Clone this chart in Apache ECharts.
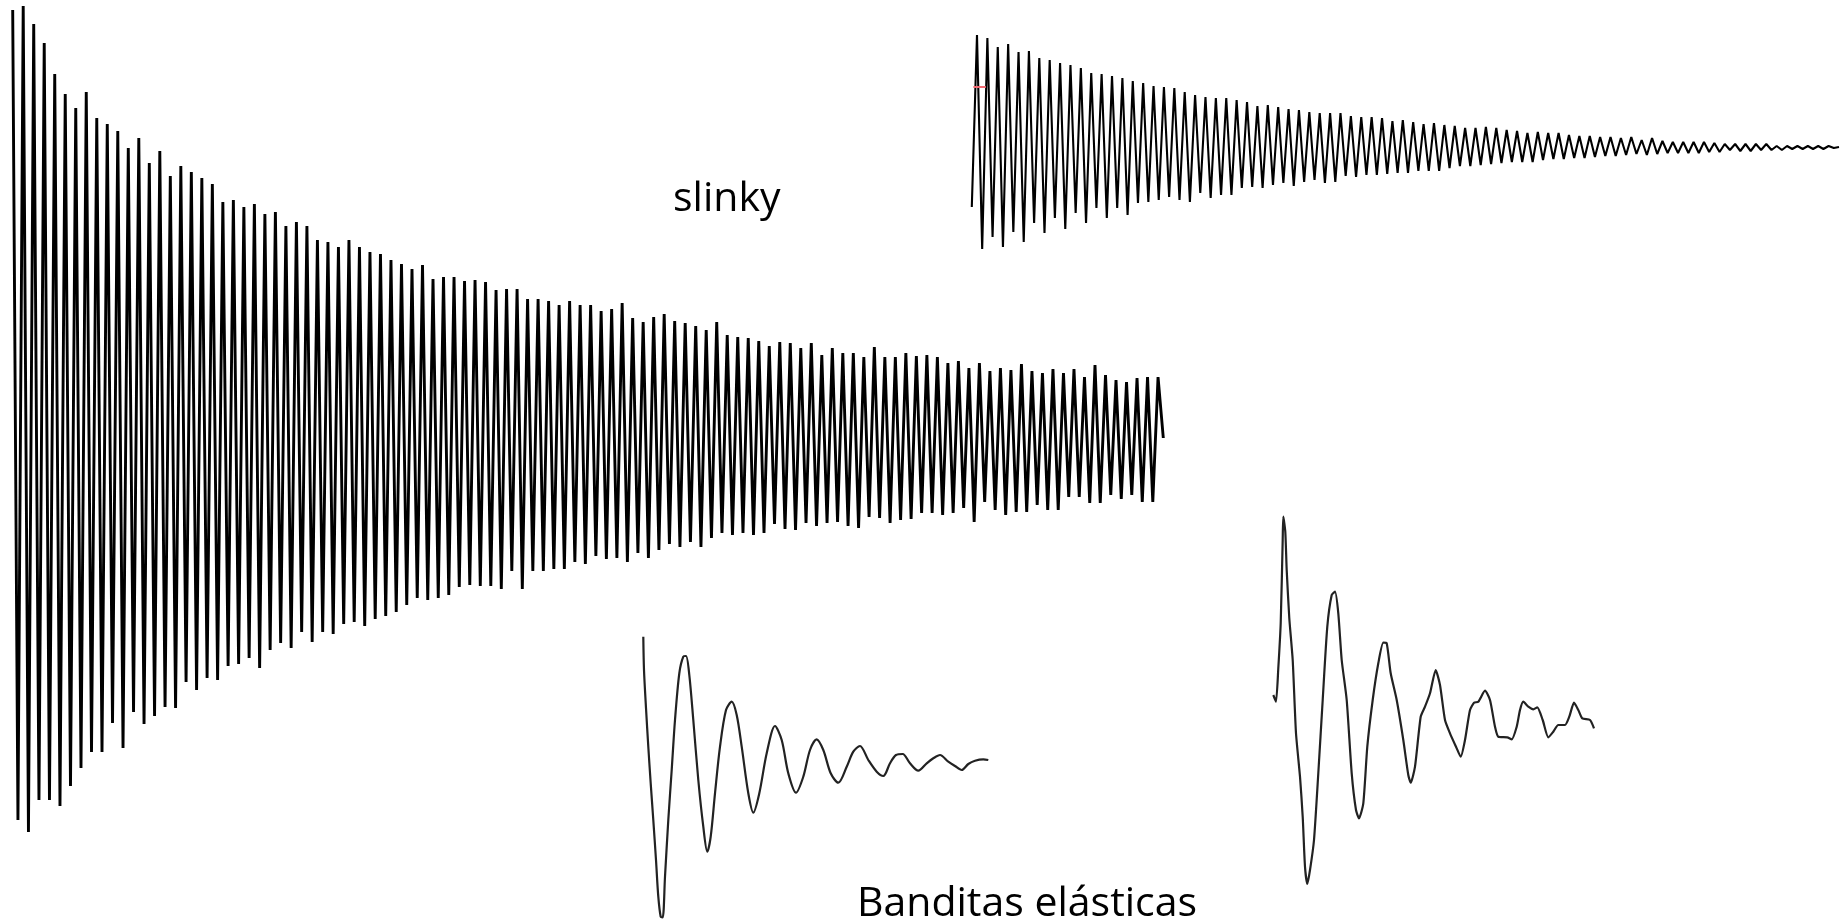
<!DOCTYPE html>
<html>
<head>
<meta charset="utf-8">
<title>slinky · banditas elásticas</title>
<script src="https://cdn.jsdelivr.net/npm/echarts@6/dist/echarts.min.js"></script>
<style>
  html, body { margin: 0; padding: 0; background: #ffffff; }
  #chart { width: 1841px; height: 923px; }
</style>
</head>
<body>
<div id="chart"></div>
<script>
// ---- Long slinky record: crest and trough amplitude of every half cycle ----
const slinkyLongCrests = [
  420, 424, 406, 387, 356, 336, 322, 338, 312, 306,
  299, 282, 292, 267, 279, 254, 264, 258, 252, 246,
  228, 230, 223, 226, 216, 218, 204, 208, 204, 190,
  188, 183, 190, 183, 178, 176, 170,
  166, 161, 165, 151, 153, 153, 149, 150, 148, 140,
  141, 141, 131, 131, 129, 125, 129, 125, 125, 119,
  121, 127, 112, 108, 113, 116, 109, 107, 104, 100,
  108, 95, 93, 92, 89, 84, 88, 87,
  82, 87, 75, 82, 77, 77, 73, 83, 73, 73,
  77, 74, 75, 73, 67, 69, 62, 67, 59, 62,
  60, 66, 59, 57, 61, 57, 61, 53, 65, 55,
  50, 48, 52, 53, 53
];
const slinkyLongTroughs = [
  -390, -402, -370, -370, -376, -356, -338, -322, -322, -293,
  -318, -282, -294, -286, -277, -278, -252, -260, -248, -250,
  -236, -234, -228, -238, -220, -213, -218, -202, -212, -202,
  -204, -194, -192, -196, -189, -186, -182,
  -175, -168, -170, -168, -165, -157, -155, -156, -156, -159,
  -141, -159, -141, -141, -139, -139, -132, -134, -126, -129,
  -128, -132, -123, -128, -120, -114, -117, -112, -117, -108,
  -103, -105, -103, -105, -103, -94, -99, -100,
  -93, -96, -93, -92, -96, -98, -87, -88, -93, -90,
  -89, -83, -83, -85, -83, -78, -92, -72, -80, -85,
  -82, -82, -75, -80, -80, -67, -67, -73, -73, -65,
  -69, -65, -72, -72
];
const slinkyLongEnd = -8;

// ---- Short slinky record ----
const slinkyShortStart = -60;
const slinkyShortCrests = [
  112, 109, 100, 103, 95, 96, 89, 87, 84, 82,
  79, 74, 73, 71, 69, 66, 64, 61, 60, 59,
  55, 52, 50, 49, 49, 47, 45, 41, 42, 40,
  38, 37, 35, 34, 34, 34, 31, 30, 30, 29,
  26, 27, 25, 23, 24, 22, 21, 19, 19, 20,
  19, 17, 16, 14, 15, 14, 14, 12, 11, 11,
  10, 10, 9, 10, 7, 9, 6, 5, 5, 5,
  5, 4, 3, 3, 3, 3, 3, 1, 1, 1,
  1, 1, 1, 0
];
const slinkyShortTroughs = [
  -102, -90, -100, -85, -95, -76, -86, -71, -82, -66,
  -76, -61, -71, -61, -68, -56, -55, -53, -50, -53,
  -55, -46, -51, -48, -48, -41, -40, -41, -38, -36,
  -39, -35, -33, -36, -35, -29, -30, -28, -28, -27,
  -26, -26, -24, -24, -24, -21, -19, -19, -18, -17,
  -16, -15, -15, -15, -13, -12, -12, -11, -11, -10,
  -9, -9, -8, -7, -8, -7, -6, -6, -6, -6,
  -5, -5, -3, -4, -4, -3, -3, -3, -2, -2,
  -2, -2, -1
];
// red cursor tick at the start of the short record
const cursorMark = [[0.3, 60], [2.7, 60]];

// ---- Rubber band records (time, displacement) ----
const band1Time = [
  0, 0.7, 2.7, 5, 7.4, 10, 12.7, 15, 17.4, 19.4,
  21.7, 25, 28.4, 31.7, 36, 40, 42.7, 46, 50, 55,
  60, 64, 67.4, 71.7, 76.7, 82.7, 88.4, 93.4, 98.4, 105,
  110, 116, 123.4, 131.7, 138.4, 145, 152.7, 160, 166.7, 173.4,
  180, 187.4, 195, 203.4, 210, 216.7, 225, 233.4, 240, 246.7,
  252.7, 259.4, 266.7, 275, 283.4, 290, 296.7, 305, 311.7, 318.4,
  325, 331.7, 340, 345
];
const band1Value = [
  123.3, 90, 52, 13.3, -23.3, -60, -100, -136.7, -156.7, -157.3,
  -116.7, -60, -10, 40, 86.7, 103.3, 104, 85, 40, -20,
  -66.7, -91.7, -76.7, -33.3, 13.3, 50, 58.3, 45, 13.3, -33.3,
  -52.7, -33.3, 6.7, 34, 20, -13.3, -32.7, -16.7, 10, 20.7,
  10, -13.3, -22.7, -6.7, 8.3, 14, 0, -11.7, -16, -3.3,
  5, 6, -3.3, -10.7, -3.3, 1.7, 5, -1.7, -6, -10,
  -4, -0.7, 0.7, 0
];
const band2Time = [
  0, 2.7, 5, 7.4, 9.4, 10, 12, 13.4, 16, 19.4,
  22.7, 26.7, 29.4, 31.7, 34, 36.7, 40.7, 45, 49.4, 54,
  58.4, 61.7, 65, 68.4, 73.4, 78.4, 82.7, 85.7, 90, 94,
  99.4, 105, 110, 113.4, 117.4, 123.4, 130, 135, 137.4, 141.7,
  147.4, 151.7, 156.7, 162.4, 166.7, 171.7, 176.7, 182.7, 187.4, 191.7,
  196.7, 200.7, 205, 211.7, 216.7, 221.7, 225, 234, 238.4, 243.4,
  246.7, 250, 255, 260, 264, 269.4, 275, 280, 285, 291.7,
  296, 300.7, 305, 309, 316.7, 320.7
];
const band2Value = [
  25, 18.3, 51.7, 96.7, 180, 203.3, 188.3, 150, 101.7, 60,
  -13.3, -56.7, -96.7, -146.7, -164, -150, -120, -53.3, 20, 93.3,
  125, 128.3, 106.7, 60, 20, -53.3, -90, -98.3, -83.3, -26.7,
  20, 56.7, 77.3, 76.7, 46.7, 20, -20, -55, -62.7, -46.7,
  3.3, 13.3, 26.7, 50, 35, 0, -13.3, -26.7, -36.7, -20,
  10, 17.3, 18.3, 29.3, 20, -6.7, -16.7, -17.3, -19.3, -6.7,
  10, 18.3, 13.3, 10.7, 12.7, 0, -17.3, -11.7, -5, -5,
  3.3, 17.3, 10, 1.7, 0, -8.3
];

const labels = ['slinky', 'Banditas elásticas'];

// Build the half-cycle sequence crest, trough, crest, ... as [index, value]
function halfCycles(crests, troughs, lead, tail) {
  const seq = [];
  if (lead !== undefined) seq.push(lead);
  for (let i = 0; i < crests.length; i++) {
    seq.push(crests[i]);
    if (i < troughs.length) seq.push(troughs[i]);
  }
  if (tail !== undefined) seq.push(tail);
  return seq.map((v, i) => [i, v]);
}
const zip = (t, v) => t.map((x, i) => [x, v[i]]);

const longData = halfCycles(slinkyLongCrests, slinkyLongTroughs, undefined, slinkyLongEnd);
const shortData = halfCycles(slinkyShortCrests, slinkyShortTroughs, slinkyShortStart);
const band1Data = zip(band1Time, band1Value);
const band2Data = zip(band2Time, band2Value);

const hiddenAxis = (gridIndex, min, max) => ({
  type: 'value', gridIndex, min, max, show: false,
  axisLine: { show: false }, splitLine: { show: false }
});

const labelStyle = { fontFamily: 'Open Sans', fontSize: 41, fontWeight: 'normal', color: '#000' };

const chart = echarts.init(document.getElementById('chart'), null, { renderer: 'canvas' });
chart.setOption({
  backgroundColor: '#ffffff',
  animation: false,
  title: [
    { text: labels[0], left: 673, top: 179, padding: 0, textStyle: labelStyle },
    { text: labels[1], left: 857, top: 884, padding: 0, textStyle: labelStyle }
  ],
  grid: [
    { left: 12.7, top: 0, width: 1150.6, height: 923 },
    { left: 971.8, top: 30, width: 867.2, height: 230 },
    { left: 643.3, top: 630, width: 345, height: 293 },
    { left: 1273.3, top: 510, width: 320.7, height: 380 }
  ],
  xAxis: [
    hiddenAxis(0, 0, longData.length - 1),
    hiddenAxis(1, 0, shortData.length - 1),
    hiddenAxis(2, 0, 345),
    hiddenAxis(3, 0, 320.7)
  ],
  yAxis: [
    hiddenAxis(0, -493, 430),
    hiddenAxis(1, -113, 117),
    hiddenAxis(2, -163, 130),
    hiddenAxis(3, -170, 210)
  ],
  series: [
    { type: 'line', name: 'slinky largo', xAxisIndex: 0, yAxisIndex: 0, data: longData,
      showSymbol: false, clip: false, lineStyle: { color: '#000', width: 2.9, join: 'miter' } },
    { type: 'line', name: 'slinky corto', xAxisIndex: 1, yAxisIndex: 1, data: shortData,
      showSymbol: false, clip: false, lineStyle: { color: '#000', width: 2.1 } },
    { type: 'line', name: 'cursor', xAxisIndex: 1, yAxisIndex: 1, data: cursorMark,
      showSymbol: false, clip: false, lineStyle: { color: '#f26a72', width: 2 } },
    { type: 'line', name: 'bandita 1', xAxisIndex: 2, yAxisIndex: 2, data: band1Data,
      showSymbol: false, clip: false, smooth: 0.3, lineStyle: { color: '#222', width: 2.2 } },
    { type: 'line', name: 'bandita 2', xAxisIndex: 3, yAxisIndex: 3, data: band2Data,
      showSymbol: false, clip: false, smooth: 0.2, lineStyle: { color: '#222', width: 2.2 } }
  ]
});
</script>
</body>
</html>
